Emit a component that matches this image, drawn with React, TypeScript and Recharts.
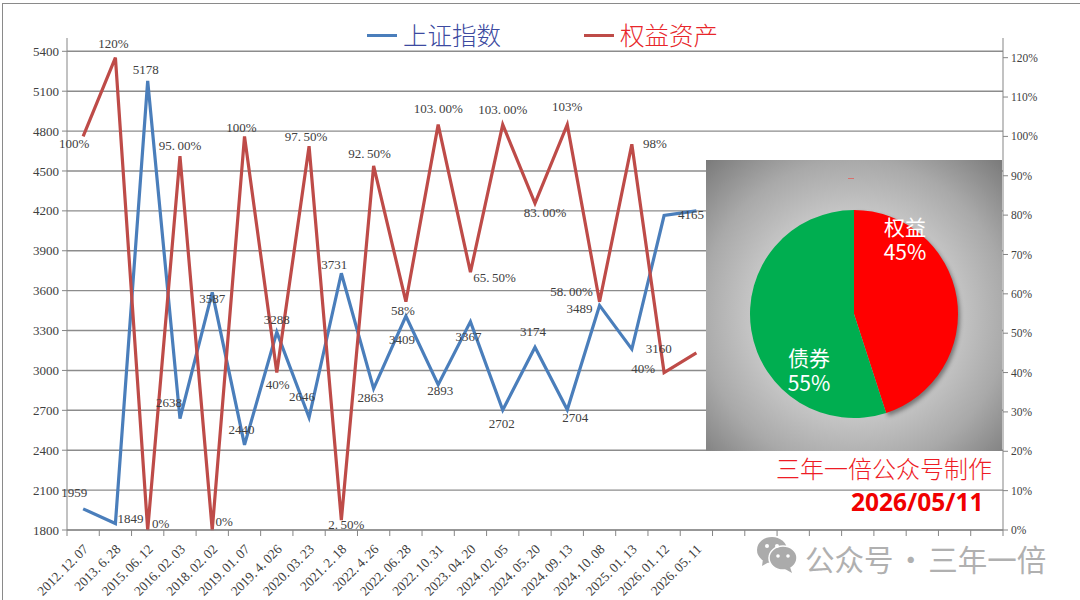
import { ComposedChart, Line, LabelList, XAxis, YAxis, CartesianGrid, Legend, PieChart, Pie, Cell } from 'recharts';

const CATEGORIES = [
  '2012.12.07', '2013.6.28', '2015.06.12', '2016.02.03', '2018.02.02', '2019.01.07', '2019.4.026',
  '2020.03.23', '2021.2.18', '2022.4.26', '2022.06.28', '2022.10.31', '2023.04.20', '2024.02.05',
  '2024.05.20', '2024.09.13', '2024.10.08', '2025.01.13', '2026.01.12', '2026.05.11',
  '', '', '', '', '', '', '', '', '',
];

const SSE_VALUES = [1959, 1849, 5178, 2638, 3587, 2440, 3288, 2646, 3731, 2863, 3409, 2893, 3367, 2702, 3174, 2704, 3489, 3160, 4165, 4200];
const EQUITY_VALUES = [100, 120, 0, 95, 0, 100, 40, 97.5, 2.5, 92.5, 58, 103, 65.5, 103, 83, 103, 58, 98, 40, 45];

const SSE_LABELS = ['1959', '1849', '5178', '2638', '3587', '2440', '3288', '2646', '3731', '2863', '3409', '2893', '3367', '2702', '3174', '2704', '3489', '3160', '4165', ''];
const EQUITY_LABELS = ['100%', '120%', '0%', '95.00%', '0%', '100%', '40%', '97.50%', '2.50%', '92.50%', '58%', '103.00%', '65.50%', '103.00%', '83.00%', '103%', '58.00%', '98%', '40%', ''];

// hand placed label offsets from each point, like the dragged labels in the original
const SSE_OFFSETS = [[-9, -15], [15, -4], [-2, -10], [-11, -15], [0, 7], [-3, -14], [0, -12], [-7, -20], [-7, -8], [-3, 10], [-4, 24], [2, 7], [-2, 16], [-1, 14], [-2, -15], [8, 9], [-20, 4], [27, 0], [27, 0], [0, 0]];
const EQUITY_OFFSETS = [[-9, 8], [-2, -13], [13, -6], [0, -10], [12, -8], [-3, -8], [1, 13], [-3, -9], [5, 5], [-4, -11], [-3, 10], [0, -15], [24, 6], [0, -14], [10, 10], [0, -17], [-28, -9], [23, 0], [-21, -3], [0, 0]];

const LEFT_TICKS = [1800, 2100, 2400, 2700, 3000, 3300, 3600, 3900, 4200, 4500, 4800, 5100, 5400];
const RIGHT_TICKS = [0, 10, 20, 30, 40, 50, 60, 70, 80, 90, 100, 110, 120];

const PIE_NAMES = ['权益', '债券'];
const PIE_VALUES = [45, 55];
const PIE_COLORS = ['#ff0000', '#00ae50'];
const PIE_LABEL_OFFSETS = [[51, -74], [-45, 57]];

const rows = CATEGORIES.map((_, i) => ({
  slot: i,
  sse: SSE_VALUES[i] ?? null,
  equity: EQUITY_VALUES[i] ?? null,
}));
const pieRows = PIE_NAMES.map((name, i) => ({ name, value: PIE_VALUES[i] }));

const AXIS = '#858585';
const TEXT = '#404040';
const SERIF = '"Liberation Serif", serif';
const CJK = '"Noto Sans CJK SC", sans-serif';
const BAND = (1003 - 67) / CATEGORIES.length;

// the source font has a full width dot, so widen it
function dotted(text: string) {
  const parts = text.split('.');
  return parts.map((p, i) => (
    <tspan key={i} dx={i > 0 ? 2.5 : 0}>{i < parts.length - 1 ? p + '.' : p}</tspan>
  ));
}

function DateTick({ x, y, payload, index }: any) {
  const isLast = index === CATEGORIES.length - 1;
  return (
    <g>
      <line x1={x - BAND / 2} x2={x - BAND / 2} y1={y} y2={y + 6} stroke={AXIS} />
      {isLast && <line x1={x + BAND / 2} x2={x + BAND / 2} y1={y} y2={y + 6} stroke={AXIS} />}
      <text
        x={x + 6}
        y={y + 20}
        textAnchor="end"
        fontFamily={SERIF}
        fontSize={13.5}
        fill={TEXT}
        transform={`rotate(-45 ${x + 6} ${y + 20})`}
      >
        {dotted(CATEGORIES[payload.value])}
      </text>
    </g>
  );
}

function pointLabel(labels: string[], offsets: number[][]) {
  return ({ x, y, index }: any) => {
    const text = labels[index];
    if (!text) return null;
    return (
      <text
        x={x + offsets[index][0]}
        y={y + offsets[index][1] - 1.5}
        textAnchor="middle"
        dominantBaseline="central"
        fontFamily={SERIF}
        fontSize={13}
        fill={TEXT}
      >
        {dotted(text)}
      </text>
    );
  };
}

function LegendRow({ payload }: any) {
  const textColors = ['#3d4aa0', '#e8262a'];
  const gaps = [83, 0];
  return (
    <div style={{ display: 'flex', alignItems: 'center' }}>
      {(payload || []).map((entry: any, i: number) => (
        <div key={entry.value} style={{ display: 'flex', alignItems: 'center', marginRight: gaps[i] }}>
          <div style={{ width: 30, height: 3, background: entry.color, marginRight: 6 }} />
          <span style={{ fontFamily: CJK, fontSize: 24.5, fontWeight: 300, color: textColors[i], lineHeight: '34px' }}>
            {entry.value}
          </span>
        </div>
      ))}
    </div>
  );
}

function pieLabel({ cx, cy, index, payload }: any) {
  const tx = cx + PIE_LABEL_OFFSETS[index][0];
  const ty = cy + PIE_LABEL_OFFSETS[index][1];
  return (
    <text x={tx} textAnchor="middle" fontFamily={CJK} fontSize={21} fill="#fff">
      <tspan x={tx} y={ty - 5}>{payload.name}</tspan>
      <tspan x={tx} y={ty + 20}>{payload.value}%</tspan>
    </text>
  );
}

export default function App() {
  return (
    <div style={{ position: 'absolute', left: 0, top: 0, width: 1080, height: 600, background: '#fff', overflow: 'hidden' }}>
      <div style={{ position: 'absolute', left: 2, top: 3, width: 1090, height: 620, borderLeft: '1px solid #8a8a8a', borderTop: '1px solid #8a8a8a' }} />

      <ComposedChart
        width={1080}
        height={600}
        data={rows}
        margin={{ top: 38, right: 7, bottom: 0, left: 7 }}
      >
        <CartesianGrid yAxisId="left" vertical={false} horizontal syncWithTicks stroke="#8c8c8c" strokeWidth={1.4} />
        <XAxis
          dataKey="slot"
          type="category"
          height={70}
          interval={0}
          padding={{ left: BAND / 2, right: BAND / 2 }}
          scale="point"
          tickLine={false}
          tickSize={0}
          tickMargin={0}
          stroke={AXIS}
          tick={<DateTick />}
        />
        <YAxis
          yAxisId="left"
          width={60}
          domain={[1800, 5500]}
          ticks={LEFT_TICKS}
          interval={0}
          stroke={AXIS}
          tickSize={5}
          tickMargin={3}
          tick={{ fontFamily: SERIF, fontSize: 13, fill: TEXT }}
        />
        <YAxis
          yAxisId="right"
          orientation="right"
          width={70}
          domain={[0, 125]}
          ticks={RIGHT_TICKS}
          interval={0}
          stroke={AXIS}
          tickSize={5}
          tickMargin={3}
          tickFormatter={(v: number) => `${v}%`}
          tick={{ fontFamily: SERIF, fontSize: 11.5, fill: TEXT }}
        />
        <Legend
          verticalAlign="middle"
          align="center"
          content={<LegendRow />}
          wrapperStyle={{ left: 367, top: 18, width: 400, height: 34 }}
        />
        <Line yAxisId="left" name="上证指数" dataKey="sse" type="linear" stroke="#4a7ebb" strokeWidth={3.2} dot={false} isAnimationActive={false}>
          <LabelList dataKey="sse" content={pointLabel(SSE_LABELS, SSE_OFFSETS)} />
        </Line>
        <Line yAxisId="right" name="权益资产" dataKey="equity" type="linear" stroke="#be4b48" strokeWidth={3.2} dot={false} isAnimationActive={false}>
          <LabelList dataKey="equity" content={pointLabel(EQUITY_LABELS, EQUITY_OFFSETS)} />
        </Line>
      </ComposedChart>

      <div
        style={{
          position: 'absolute', left: 706, top: 160, width: 296, height: 291,
          background: 'radial-gradient(circle at 50% 53%, #dedede 0%, #cfcfcf 40%, #a9a9a9 72%, #7a7a7a 100%)',
        }}
      >
        <div style={{ position: 'absolute', left: 142, top: 18, width: 6, height: 1, background: '#d9706c' }} />
        <PieChart width={296} height={291} margin={{ top: 0, right: 0, bottom: 0, left: 0 }}>
          <Pie
            data={pieRows}
            dataKey="value"
            cx={148}
            cy={154}
            outerRadius={104}
            startAngle={90}
            endAngle={-270}
            stroke="none"
            labelLine={false}
            label={pieLabel}
            isAnimationActive={false}
          >
            {PIE_COLORS.map((color, i) => (
              <Cell key={color} fill={color} style={i === 0 ? { filter: 'drop-shadow(2px 3px 2px rgba(0,0,0,0.4))' } : undefined} />
            ))}
          </Pie>
        </PieChart>
      </div>

      <div style={{ position: 'absolute', left: 776, top: 451, fontFamily: CJK, fontWeight: 300, fontSize: 24, lineHeight: '34px', color: '#ee1c25', whiteSpace: 'nowrap' }}>
        三年一倍公众号制作
      </div>
      <div style={{ position: 'absolute', left: 851, top: 485, fontFamily: '"Noto Sans", sans-serif', fontWeight: 700, fontSize: 24.5, lineHeight: '34px', color: '#f00000', whiteSpace: 'nowrap' }}>
        2026/05/11
      </div>

      <svg style={{ position: 'absolute', left: 755, top: 535 }} width={44} height={40}>
        <ellipse cx={17} cy={15} rx={15} ry={13} fill="#ababab" />
        <path d="M8 24 L7 31 L14 27 Z" fill="#ababab" />
        <ellipse cx={28} cy={23} rx={14} ry={12} fill="#ababab" stroke="#fff" strokeWidth={1.5} />
        <path d="M35 32 L37 38 L30 34 Z" fill="#ababab" />
        <circle cx={12} cy={11} r={2} fill="#fff" />
        <circle cx={22} cy={11} r={2} fill="#fff" />
        <circle cx={23} cy={21} r={1.8} fill="#fff" />
        <circle cx={33} cy={21} r={1.8} fill="#fff" />
      </svg>
      <div style={{ position: 'absolute', left: 805, top: 538, fontFamily: CJK, fontSize: 29.5, wordSpacing: -4, lineHeight: '40px', color: '#b0b0b0', whiteSpace: 'nowrap' }}>
        公众号 · 三年一倍
      </div>
    </div>
  );
}
